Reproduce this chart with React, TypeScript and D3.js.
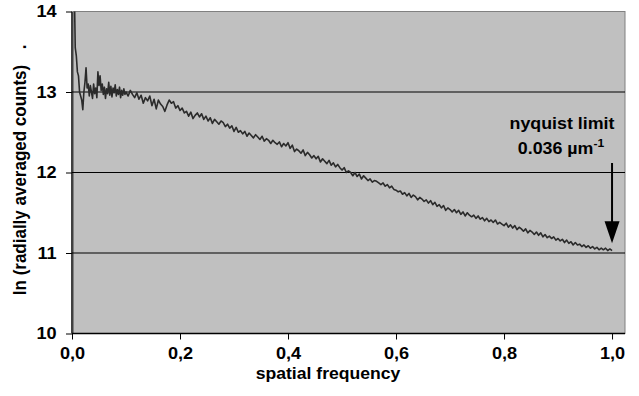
import { useEffect, useRef } from "react";
import * as d3 from "d3";

// spatial frequency (normalised) / ln(radially averaged counts)
const FREQ_EARLY = [
  0.004, 0.006, 0.008, 0.01, 0.012, 0.014, 0.016, 0.018, 0.02, 0.022, 0.024, 0.026, 0.028, 0.03,
  0.032, 0.034, 0.036, 0.038, 0.04, 0.042, 0.044, 0.046, 0.048, 0.05, 0.052, 0.054, 0.056, 0.058,
  0.06, 0.062, 0.064, 0.066, 0.068, 0.07, 0.072, 0.074, 0.076, 0.078, 0.08, 0.082, 0.084, 0.086,
  0.088, 0.09, 0.092, 0.094, 0.096, 0.098,
];
const LN_EARLY = [
  14.4, 13.55, 13.45, 13.25, 13.2, 13.0, 12.95, 12.9, 12.78, 13.0, 13.12, 13.3, 13.05, 13.1,
  12.95, 13.08, 13.0, 12.92, 13.1, 12.98, 13.05, 12.93, 13.25, 13.08, 13.2, 13.02, 13.1, 12.97,
  13.06, 12.92, 13.04, 12.98, 13.12, 12.96, 13.07, 12.94, 13.05, 12.99, 13.09, 12.95, 13.03, 12.97,
  13.06, 12.93, 13.02, 12.96, 13.04, 12.97,
];

// 0.100 .. 1.000 in steps of 0.004
const FREQ_MAIN = [
  0.1, 0.104, 0.108, 0.112, 0.116, 0.12, 0.124, 0.128, 0.132, 0.136, 0.14, 0.144, 0.148, 0.152, 0.156, 0.16, 0.164, 0.168, 0.172, 0.176, 0.18, 0.184, 0.188, 0.192, 0.196,
  0.2, 0.204, 0.208, 0.212, 0.216, 0.22, 0.224, 0.228, 0.232, 0.236, 0.24, 0.244, 0.248, 0.252, 0.256, 0.26, 0.264, 0.268, 0.272, 0.276, 0.28, 0.284, 0.288, 0.292, 0.296,
  0.3, 0.304, 0.308, 0.312, 0.316, 0.32, 0.324, 0.328, 0.332, 0.336, 0.34, 0.344, 0.348, 0.352, 0.356, 0.36, 0.364, 0.368, 0.372, 0.376, 0.38, 0.384, 0.388, 0.392, 0.396,
  0.4, 0.404, 0.408, 0.412, 0.416, 0.42, 0.424, 0.428, 0.432, 0.436, 0.44, 0.444, 0.448, 0.452, 0.456, 0.46, 0.464, 0.468, 0.472, 0.476, 0.48, 0.484, 0.488, 0.492, 0.496,
  0.5, 0.504, 0.508, 0.512, 0.516, 0.52, 0.524, 0.528, 0.532, 0.536, 0.54, 0.544, 0.548, 0.552, 0.556, 0.56, 0.564, 0.568, 0.572, 0.576, 0.58, 0.584, 0.588, 0.592, 0.596,
  0.6, 0.604, 0.608, 0.612, 0.616, 0.62, 0.624, 0.628, 0.632, 0.636, 0.64, 0.644, 0.648, 0.652, 0.656, 0.66, 0.664, 0.668, 0.672, 0.676, 0.68, 0.684, 0.688, 0.692, 0.696,
  0.7, 0.704, 0.708, 0.712, 0.716, 0.72, 0.724, 0.728, 0.732, 0.736, 0.74, 0.744, 0.748, 0.752, 0.756, 0.76, 0.764, 0.768, 0.772, 0.776, 0.78, 0.784, 0.788, 0.792, 0.796,
  0.8, 0.804, 0.808, 0.812, 0.816, 0.82, 0.824, 0.828, 0.832, 0.836, 0.84, 0.844, 0.848, 0.852, 0.856, 0.86, 0.864, 0.868, 0.872, 0.876, 0.88, 0.884, 0.888, 0.892, 0.896,
  0.9, 0.904, 0.908, 0.912, 0.916, 0.92, 0.924, 0.928, 0.932, 0.936, 0.94, 0.944, 0.948, 0.952, 0.956, 0.96, 0.964, 0.968, 0.972, 0.976, 0.98, 0.984, 0.988, 0.992, 0.996,
  1.0,
];
const LN_MAIN = [
  13.0, 12.95, 13.02, 12.97, 12.93, 12.99, 12.91, 12.96, 12.86, 12.93, 12.89, 12.95, 12.83, 12.91, 12.79, 12.9, 12.85, 12.82, 12.76, 12.84, 12.9, 12.86, 12.88, 12.8, 12.83,
  12.77, 12.8, 12.74, 12.76, 12.7, 12.75, 12.67, 12.71, 12.74, 12.69, 12.73, 12.66, 12.7, 12.64, 12.68, 12.61, 12.66, 12.63, 12.6, 12.64, 12.62, 12.57, 12.6, 12.55, 12.58,
  12.51, 12.56, 12.5, 12.52, 12.48, 12.51, 12.45, 12.49, 12.46, 12.43, 12.47, 12.44, 12.41, 12.45, 12.39, 12.42, 12.4, 12.36, 12.4, 12.37, 12.35, 12.38, 12.32, 12.36, 12.33,
  12.37, 12.3, 12.34, 12.26, 12.29, 12.27, 12.24, 12.28, 12.21, 12.25, 12.22, 12.18, 12.21, 12.17, 12.2, 12.13, 12.17, 12.14, 12.11, 12.15, 12.09, 12.12, 12.07, 12.1, 12.06,
  12.03, 12.06, 12.0, 12.02, 12.0, 11.96, 12.0, 11.95, 11.98, 11.92, 11.96, 11.93, 11.9, 11.92, 11.88, 11.9, 11.89, 11.87, 11.85, 11.87, 11.83, 11.85, 11.81, 11.83, 11.79,
  11.78, 11.76, 11.77, 11.73, 11.75, 11.71, 11.74, 11.69, 11.72, 11.7, 11.66, 11.69, 11.67, 11.64, 11.66, 11.62, 11.65, 11.6, 11.63, 11.58, 11.6, 11.56, 11.59, 11.53, 11.56,
  11.54, 11.51, 11.54, 11.5, 11.53, 11.48, 11.51, 11.46, 11.5, 11.47, 11.45, 11.47, 11.43, 11.46, 11.42, 11.44, 11.4, 11.43, 11.39, 11.41, 11.38, 11.41, 11.36, 11.38, 11.36,
  11.34, 11.37, 11.32, 11.35, 11.31, 11.34, 11.29, 11.32, 11.3, 11.27, 11.3, 11.25, 11.28, 11.26, 11.23, 11.26, 11.22, 11.25, 11.2, 11.23, 11.19, 11.21, 11.18, 11.2, 11.16,
  11.18, 11.15, 11.17, 11.13, 11.16, 11.12, 11.14, 11.1, 11.13, 11.1, 11.11, 11.08, 11.1, 11.07, 11.09, 11.06, 11.08, 11.05, 11.07, 11.04, 11.06, 11.04, 11.06, 11.03, 11.05,
  11.03,
];

const X_TICKS = [0, 0.2, 0.4, 0.6, 0.8, 1.0];
const Y_TICKS = [10, 11, 12, 13, 14];
const GRID = [11, 12, 13];
const X_MAX = 1.024;
const NYQUIST = 1.0;

const W = 639;
const H = 396;
const PLOT = { left: 72, right: 625, top: 11.5, bottom: 333.5 };
const FONT = "'Liberation Sans', Arial, sans-serif";
const STRETCH = 1.1; // the source text is a bit wider than Arial

export default function App() {
  const svgRef = useRef<SVGSVGElement>(null);

  useEffect(() => {
    if (!svgRef.current) return;
    const svg = d3.select(svgRef.current);
    svg.selectAll("*").remove();

    const data = [
      ...FREQ_EARLY.map((f, i) => ({ f, v: LN_EARLY[i] })),
      ...FREQ_MAIN.map((f, i) => ({ f, v: LN_MAIN[i] })),
    ];

    const x = d3.scaleLinear().domain([0, X_MAX]).range([PLOT.left, PLOT.right]);
    const y = d3.scaleLinear().domain([10, 14]).range([PLOT.bottom, PLOT.top]);

    svg
      .append("defs")
      .append("clipPath")
      .attr("id", "plot-clip")
      .append("rect")
      .attr("x", PLOT.left)
      .attr("y", PLOT.top)
      .attr("width", PLOT.right - PLOT.left)
      .attr("height", PLOT.bottom - PLOT.top);

    // plot background + frame
    svg
      .append("rect")
      .attr("x", PLOT.left + 1.5)
      .attr("y", PLOT.top)
      .attr("width", PLOT.right - PLOT.left - 1.5)
      .attr("height", PLOT.bottom - PLOT.top)
      .attr("fill", "#c0c0c0")
      .attr("stroke", "#808080")
      .attr("stroke-width", 1);

    // grid lines
    svg
      .append("g")
      .selectAll("line")
      .data(GRID)
      .join("line")
      .attr("x1", PLOT.left)
      .attr("x2", PLOT.right)
      .attr("y1", (d) => y(d))
      .attr("y2", (d) => y(d))
      .attr("stroke", "#000")
      .attr("stroke-width", 1);

    // curve
    const line = d3
      .line<(typeof data)[0]>()
      .x((d) => x(d.f))
      .y((d) => y(d.v));

    svg
      .append("path")
      .datum(data)
      .attr("clip-path", "url(#plot-clip)")
      .attr("d", line)
      .attr("fill", "none")
      .attr("stroke", "#2b2b2b")
      .attr("stroke-width", 1.6)
      .attr("stroke-linejoin", "round");

    // axes
    const yAxis = svg
      .append("g")
      .attr("transform", `translate(${PLOT.left},0)`)
      .call(d3.axisLeft(y).tickValues(Y_TICKS).tickFormat(d3.format("d")).tickSize(6).tickPadding(8));
    const xAxis = svg
      .append("g")
      .attr("transform", `translate(0,${PLOT.bottom})`)
      .call(
        d3
          .axisBottom(x)
          .tickValues(X_TICKS)
          .tickFormat((d) => d3.format(".1f")(d as number).replace(".", ","))
          .tickSize(6)
          .tickSizeOuter(0)
          .tickPadding(8),
      );

    for (const ax of [xAxis, yAxis]) {
      ax.select(".domain").attr("stroke", "#000").attr("stroke-width", 1.5);
      ax.selectAll(".tick line").attr("stroke", "#000");
      ax.selectAll("text")
        .attr("font-family", FONT)
        .attr("font-weight", "bold")
        .attr("font-size", 16.5)
        .attr("fill", "#000")
        .attr("transform", `scale(${STRETCH},1)`);
    }
    xAxis.select(".domain").attr("d", `M${PLOT.left},0H${PLOT.right}`);
    yAxis.select(".domain").attr("d", `M0,${PLOT.bottom}V${PLOT.top}`);

    const label = (tx: number, ty: number, str: string, size: number, rotate = 0) =>
      svg
        .append("text")
        .attr("transform", `translate(${tx},${ty}) scale(${STRETCH},1) rotate(${rotate})`)
        .attr("text-anchor", "middle")
        .attr("font-family", FONT)
        .attr("font-weight", "bold")
        .attr("font-size", size)
        .attr("fill", "#000")
        .text(str);

    // axis titles
    label(328, 379, "spatial frequency", 16);
    label(26, 180, "ln (radially averaged counts)", 17, -90);
    label(26, 47, ".", 17, -90);

    // nyquist annotation
    label(562, 129, "nyquist limit", 16.2);
    const t2 = label(561, 154, "", 16.2);
    t2.append("tspan").text("0.036 µm");
    t2.append("tspan").attr("font-size", 11).attr("dy", -7).text("-1");

    const ax0 = x(NYQUIST);
    const tipY = y(11.12);
    svg
      .append("line")
      .attr("x1", ax0)
      .attr("x2", ax0)
      .attr("y1", 163)
      .attr("y2", tipY - 18)
      .attr("stroke", "#000")
      .attr("stroke-width", 2);
    svg
      .append("path")
      .attr("d", `M${ax0 - 7.5},${tipY - 22}L${ax0 + 7.5},${tipY - 22}L${ax0},${tipY}Z`)
      .attr("fill", "#000");
  }, []);

  return (
    <svg
      ref={svgRef}
      width={W}
      height={H}
      style={{ position: "absolute", left: 0, top: 0, background: "#fff" }}
    />
  );
}
